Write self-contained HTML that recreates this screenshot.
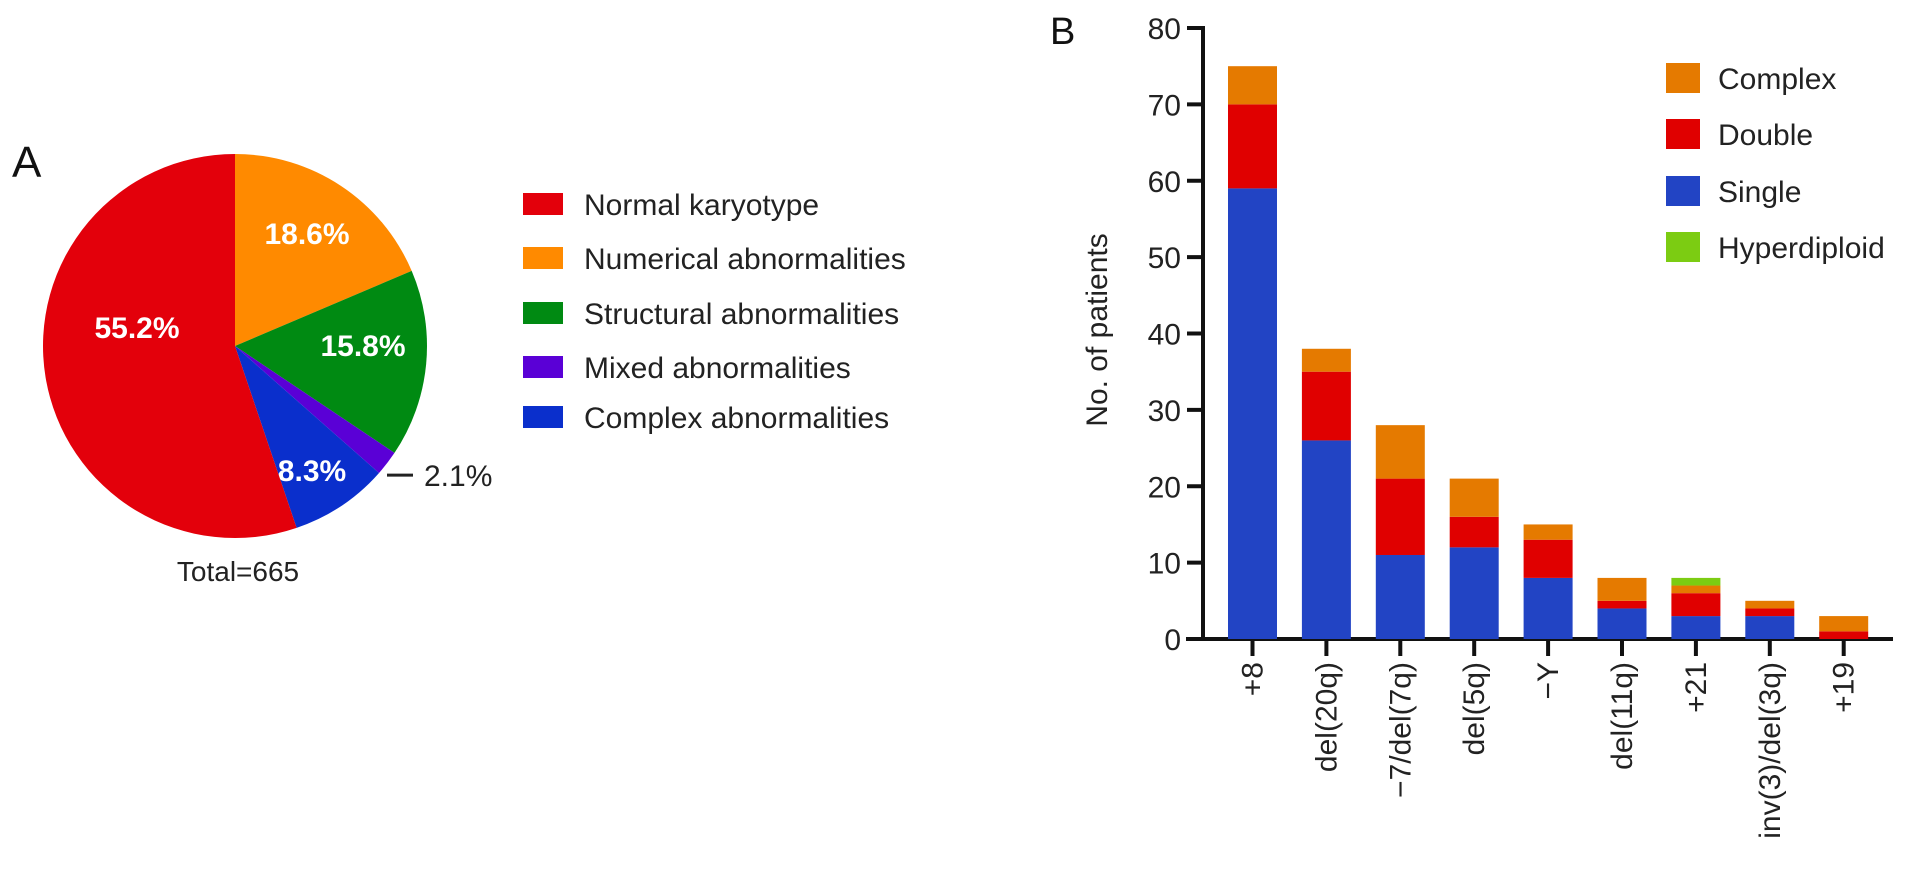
<!DOCTYPE html>
<html><head><meta charset="utf-8"><style>
html,body{margin:0;padding:0;background:#fff;}
svg{display:block;font-family:"Liberation Sans",Arial,sans-serif;}
</style></head><body>
<svg id="fig" width="1913" height="876" viewBox="0 0 1913 876" xmlns="http://www.w3.org/2000/svg">
<g id="pieG"></g>
<g id="barG"></g>
</svg>
<script>
// Pie data
const pieLabels = ["Numerical abnormalities","Structural abnormalities","Mixed abnormalities","Complex abnormalities","Normal karyotype"];
const pieValues = [18.6, 15.8, 2.1, 8.3, 55.2];
const pieColors = ["#ff8a00","#008a12","#5a00d6","#0a2fcc","#e3000b"];
const legendALabels = ["Normal karyotype","Numerical abnormalities","Structural abnormalities","Mixed abnormalities","Complex abnormalities"];
const legendAColors = ["#e3000b","#ff8a00","#008a12","#5a00d6","#0a2fcc"];

// Bar data
const categories = ["+8","del(20q)","\u22127/del(7q)","del(5q)","\u2212Y","del(11q)","+21","inv(3)/del(3q)","+19"];
const singleVals = [59, 26, 11, 12, 8, 4, 3, 3, 0];
const doubleVals = [11, 9, 10, 4, 5, 1, 3, 1, 1];
const complexVals = [5, 3, 7, 5, 2, 3, 1, 1, 2];
const hyperVals = [0, 0, 0, 0, 0, 0, 1, 0, 0];
const yTicks = [0,10,20,30,40,50,60,70,80];
const seriesNames = ["Complex","Double","Single","Hyperdiploid"];

const NS="http://www.w3.org/2000/svg";
function mk(tag, attrs, parent, text){
  const e=document.createElementNS(NS,tag);
  for(const k in attrs) e.setAttribute(k, attrs[k]);
  if(text!==undefined) e.textContent=text;
  parent.appendChild(e); return e;
}

// ---- Panel A ----
const pg=document.getElementById('pieG');
const cx=235, cy=346, r=192;
const total=pieValues.reduce((a,b)=>a+b,0);
let ang=-Math.PI/2;
const l2=[[307,244],[363,356],null,[312,481],[137,338]];
pieValues.forEach((v,i)=>{
  const a0=ang, a1=ang+v/total*2*Math.PI; ang=a1;
  const x0=cx+r*Math.cos(a0), y0=cy+r*Math.sin(a0), x1=cx+r*Math.cos(a1), y1=cy+r*Math.sin(a1);
  const large=(a1-a0)>Math.PI?1:0;
  const p=mk('path',{d:`M${cx},${cy} L${x0},${y0} A${r},${r} 0 ${large} 1 ${x1},${y1} Z`,fill:pieColors[i]},pg);
  
  
  const am=(a0+a1)/2;
  if(l2[i]){
    const t=mk('text',{x:l2[i][0],y:l2[i][1],'text-anchor':'middle','font-size':30,'font-weight':'bold',fill:'#fff'},pg,v.toFixed(1)+'%');
    
    
  } else {
    const ey=cy+(r-5)*Math.sin(am);
    const ln=mk('line',{x1:387,y1:ey+15,x2:413,y2:ey+15,stroke:'#222','stroke-width':3},pg);
    
    
    const t=mk('text',{x:424,y:ey+26,'font-size':30,fill:'#222'},pg,v.toFixed(1)+'%');
    
    
  }
});
let tA=mk('text',{x:12,y:177,'font-size':44,fill:'#111'},pg,'A');


let tT=mk('text',{x:238,y:581,'text-anchor':'middle','font-size':28,fill:'#222'},pg,'Total=665');


const legYs=[204,258,313,367,417];
legendALabels.forEach((lab,i)=>{
  const g=mk('g',{},pg);
  
  
  mk('rect',{x:523,y:legYs[i]-11,width:40,height:22,fill:legendAColors[i]},g);
  mk('text',{x:584,y:legYs[i]+11,'font-size':30,fill:'#222'},g,lab);
});

// ---- Panel B ----
const bg=document.getElementById('barG');
const y0px=639, pxPer=(639-28)/80;
const yS=v=>y0px-v*pxPer;
const xC=i=>1252.5+i*73.9;
const bw=49;
let tB=mk('text',{x:1050,y:44,'font-size':38,fill:'#111'},bg,'B');


const yt=mk('text',{x:0,y:0,'font-size':30,fill:'#222','text-anchor':'middle',transform:'translate(1107,330) rotate(-90)'},bg,'No. of patients');


const yax=mk('line',{x1:1203,y1:yS(80)-2,x2:1203,y2:y0px+2,stroke:'#111','stroke-width':4},bg);


const xax=mk('line',{x1:1186,y1:y0px,x2:1893,y2:y0px,stroke:'#111','stroke-width':4},bg);


yTicks.forEach(t=>{
  const g=mk('g',{},bg);
  
  
  mk('line',{x1:1187,y1:yS(t),x2:1203,y2:yS(t),stroke:'#111','stroke-width':4},g);
  mk('text',{x:1181,y:yS(t)+11,'text-anchor':'end','font-size':30,fill:'#222'},g,String(t));
});
const series=[[singleVals,'#2244c4','single'],[doubleVals,'#e00000','double'],[complexVals,'#e57a00','complex'],[hyperVals,'#7ccc12','hyperdiploid']];
categories.forEach((c,i)=>{
  const g=mk('g',{},bg);
  
  
  let base=0;
  series.forEach(([vals,col,nm])=>{
    const v=vals[i]; if(v<=0) return;
    const rr=mk('rect',{x:xC(i)-bw/2,y:yS(base+v),width:bw,height:v*pxPer,fill:col},g);
    
    
    base+=v;
  });
  const tk=mk('line',{x1:xC(i),y1:y0px,x2:xC(i),y2:y0px+17,stroke:'#111','stroke-width':4},bg);
  
  
  const tl=mk('text',{x:0,y:0,'text-anchor':'end','font-size':30,fill:'#222',transform:`translate(${xC(i)+10},662) rotate(-90)`},bg,c);
  
  
});
const legCols=['#e57a00','#e00000','#2244c4','#7ccc12'];
const legBY=[78,134,191,247];
seriesNames.forEach((n,i)=>{
  const g=mk('g',{},bg);
  
  
  mk('rect',{x:1666,y:legBY[i]-15,width:34,height:30,fill:legCols[i]},g);
  mk('text',{x:1718,y:legBY[i]+11,'font-size':30,fill:'#222'},g,n);
});
</script>
</body></html>
